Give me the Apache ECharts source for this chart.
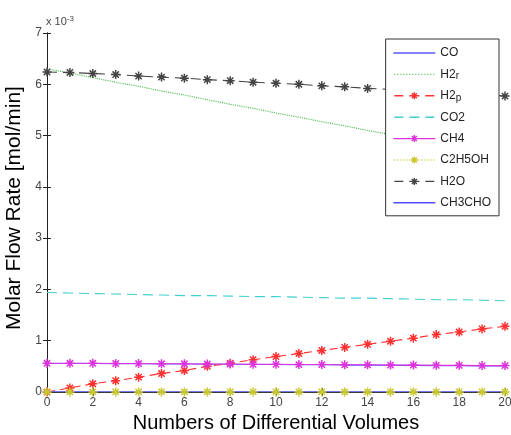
<!DOCTYPE html>
<html><head><meta charset="utf-8">
<script src="https://cdn.jsdelivr.net/npm/echarts@6/dist/echarts.min.js"></script>
<style>html,body{margin:0;padding:0;background:#fff}#c{width:511px;height:435px}</style>
</head><body><div id="c"></div>
<script>
// values in units of 1e-3 mol/min
var xCats = [0,1,2,3,4,5,6,7,8,9,10,11,12,13,14,15,16,17,18,19,20];
var xTicks = [0,2,4,6,8,10,12,14,16,18,20];
var yTicks = [0,1,2,3,4,5,6,7];
var CO     = [0.555,0.555,0.555,0.55,0.55,0.545,0.545,0.54,0.54,0.535,0.535,0.53,0.53,0.525,0.525,0.52,0.52,0.515,0.515,0.51,0.51];
// H2r: visible part only (rest hidden behind the legend in the original)
var H2r    = [6.30,6.22,6.13,6.04,5.96,5.87,5.79,5.70,5.61,5.53,5.44,5.36,5.27,5.19,5.10,5.02,4.93];
var H2p    = [0.00,0.08,0.16,0.22,0.29,0.36,0.42,0.50,0.56,0.63,0.69,0.75,0.81,0.87,0.93,0.99,1.05,1.12,1.17,1.23,1.28];
var CO2    = [1.94,1.93,1.92,1.91,1.90,1.89,1.88,1.88,1.87,1.86,1.86,1.85,1.84,1.83,1.83,1.82,1.81,1.80,1.80,1.79,1.78];
var CH4    = [0.56,0.56,0.56,0.555,0.555,0.55,0.55,0.545,0.545,0.54,0.54,0.535,0.535,0.53,0.53,0.525,0.525,0.52,0.52,0.515,0.515];
var C2H5OH = [0.002,0.002,0.002,0.002,0.002,0.002,0.002,0.002,0.002,0.002,0.002,0.002,0.002,0.002,0.002,0.002,0.002,0.002,0.002,0.002,0.002];
var H2O    = [6.24,6.23,6.21,6.19,6.16,6.14,6.12,6.09,6.07,6.04,6.02,6.00,5.97,5.95,5.92,5.90,5.87,5.85,5.83,5.80,5.77];
var CH3CHO = [0.004,0.004,0.004,0.004,0.004,0.004,0.004,0.004,0.004,0.004,0.004,0.004,0.004,0.004,0.004,0.004,0.004,0.004,0.004,0.004,0.004];

var FONT = '"Liberation Sans", Arial, sans-serif';
var star = 'path://M0,5L10,5M5,0L5,10M1.5,1.5L8.5,8.5M8.5,1.5L1.5,8.5';
var COLORS = {CO:'#5a5aff', H2r:'#44bb44', H2p:'#ff3030', CO2:'#40d0d0', CH4:'#dd33dd', C2H5OH:'#c8c830', H2O:'#444444', CH3CHO:'#5050ff'};

// legend icon paths in a 42x9 box
var W = 42, H = 9, M = 4.5;
function iconPath(style, marker){
  var p = 'M0,0M' + W + ',' + H + ' ';
  if (style === 'solid') p += 'M0,' + M + 'L' + W + ',' + M + ' ';
  else if (style === 'dotted') { for (var x = 1; x < W; x += 3) p += 'M' + x + ',' + M + 'L' + (x + 1) + ',' + M + ' '; }
  else if (style === 'dashed') { [[1,10],[16,26],[32,41]].forEach(function(s){ p += 'M' + s[0] + ',' + M + 'L' + s[1] + ',' + M + ' '; }); }
  if (marker) {
    var c = 21, r = 3.5, d = 2.5;
    p += 'M' + (c - r) + ',' + M + 'L' + (c + r) + ',' + M + ' M' + c + ',' + (M - r) + 'L' + c + ',' + (M + r) +
         ' M' + (c - d) + ',' + (M - d) + 'L' + (c + d) + ',' + (M + d) + ' M' + (c + d) + ',' + (M - d) + 'L' + (c - d) + ',' + (M + d);
  }
  return 'path://' + p;
}
function pairs(arr){ return arr.map(function(v,i){ return [xCats[i], v]; }); }
function mk(name, data, type, marker){
  var color = COLORS[name];
  return {
    name: name, type: 'line', data: pairs(data), smooth: false,
    symbol: marker ? star : 'none', symbolSize: 9, showSymbol: !!marker,
    lineStyle: {color: color, width: 1.1, type: type},
    itemStyle: {color: color, borderColor: color, borderWidth: 1.5},
    emphasis: {disabled: true}, animation: false
  };
}
function lg(name, style, marker){
  var color = COLORS[name];
  return {name: name, icon: iconPath(style, marker),
    itemStyle: {color: 'transparent', borderColor: color, borderWidth: 1.4}};
}
var chart = echarts.init(document.getElementById('c'), null, {renderer: 'canvas'});
var legendNames = {'H2r': 'H2{s|r}', 'H2p': 'H2{s|p}'};
chart.setOption({
  animation: false,
  grid: {left: 47, right: 6, top: 33, bottom: 43, outerBoundsMode: 'none', containLabel: false},
  xAxis: [{
    type: 'value', min: 0, max: 20, interval: 2,
    name: 'Numbers of Differential Volumes', nameLocation: 'middle', nameGap: 20,
    nameTextStyle: {fontFamily: FONT, fontSize: 20, color: '#000'},
    axisLine: {show: true, lineStyle: {color: '#222', width: 1}},
    axisTick: {show: true, inside: true, length: 4, lineStyle: {color: '#222'}},
    axisLabel: {fontFamily: FONT, fontSize: 12, color: '#444', margin: 5},
    splitLine: {show: false}
  },{
    type: 'value', position: 'top', min: 0, max: 20, interval: 2,
    axisLine: {show: true, lineStyle: {color: '#222', width: 1}},
    axisTick: {show: true, inside: true, length: 4, lineStyle: {color: '#222'}},
    axisLabel: {show: false}, splitLine: {show: false}
  }],
  yAxis: [{
    type: 'value', min: 0, max: 7, interval: 1,
    name: 'Molar Flow Rate [mol/min]', nameLocation: 'middle', nameGap: 14,
    nameTextStyle: {fontFamily: FONT, fontSize: 21, color: '#000', padding: [0, 0, 0, 9]},
    axisLine: {show: true, lineStyle: {color: '#222', width: 1}},
    axisTick: {show: true, inside: true, length: 4, lineStyle: {color: '#222'}},
    axisLabel: {fontFamily: FONT, fontSize: 12, color: '#444', margin: 5},
    splitLine: {show: false}
  },{
    type: 'value', position: 'right', min: 0, max: 7, interval: 1,
    axisLine: {show: true, lineStyle: {color: '#222', width: 1}},
    axisTick: {show: true, inside: true, length: 4, lineStyle: {color: '#222'}},
    axisLabel: {show: false}, splitLine: {show: false}
  }],
  legend: {
    orient: 'vertical', right: 12, top: 39,
    backgroundColor: '#fff', borderColor: '#333', borderWidth: 1, borderRadius: 0,
    padding: [7, 8, 6, 7], itemWidth: W, itemHeight: H, itemGap: 7.4,
    data: [lg('CO','solid',false), lg('H2r','dotted',false), lg('H2p','dashed',true), lg('CO2','dashed',false),
           lg('CH4','solid',true), lg('C2H5OH','dotted',true), lg('H2O','dashed',true), lg('CH3CHO','solid',false)],
    formatter: function(n){ return legendNames[n] || n; },
    textStyle: {fontFamily: FONT, fontSize: 12, color: '#222', lineHeight: 14,
      rich: {s: {fontFamily: FONT, fontSize: 10, color: '#222', verticalAlign: 'bottom', padding: [8,0,0,0]}}}
  },
  graphic: [{
    type: 'text', left: 46, top: 15,
    style: {rich: {a: {fontFamily: FONT, fontSize: 11, fill: '#444'}, b: {fontFamily: FONT, fontSize: 8, fill: '#444', verticalAlign: 'top', padding: [0,0,6,0]}},
      text: '{a|x 10}{b|-3}'}
  }],
  series: [
    mk('CO', CO, 'solid', false),
    mk('H2r', H2r, 'dotted', false),
    mk('H2p', H2p, [8,5], true),
    mk('CO2', CO2, [10,6], false),
    mk('CH4', CH4, 'solid', true),
    mk('C2H5OH', C2H5OH, 'dotted', true),
    mk('H2O', H2O, [10,6], true),
    mk('CH3CHO', CH3CHO, 'solid', false)
  ]
});
</script></body></html>
